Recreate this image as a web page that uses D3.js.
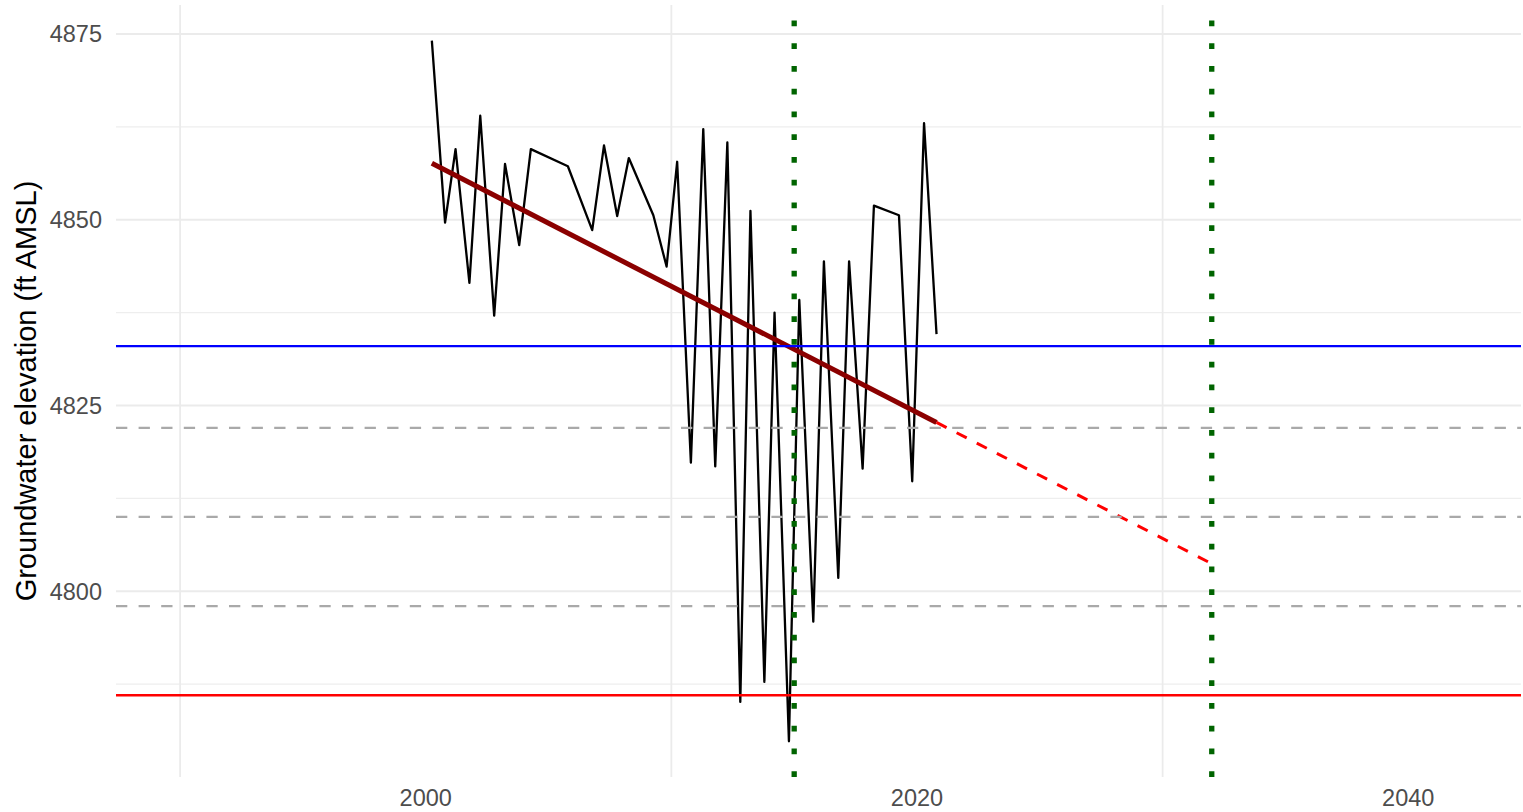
<!DOCTYPE html>
<html>
<head>
<meta charset="utf-8">
<script src="https://cdn.jsdelivr.net/npm/d3@7"></script>
<style>
body { margin: 0; background: #fff; }
svg { display: block; font-family: "Liberation Sans", Arial, sans-serif; }
</style>
</head>
<body>
<div id="chart"></div>
<script>

//====================DATA===================

const dates = [
'2000-04-01','2000-10-15','2001-03-20','2001-10-12','2002-03-22','2002-10-15',
'2003-03-25','2003-10-22','2004-04-12','2005-10-15','2006-10-12','2007-04-05',
'2007-10-18','2008-04-08','2009-04-08','2009-10-22','2010-03-28','2010-10-18',
'2011-04-20','2011-10-15','2012-04-12','2012-10-22','2013-03-22','2013-10-15',
'2014-03-15','2014-10-15','2015-03-18','2015-10-12','2016-03-18','2016-10-18',
'2017-03-28','2017-10-15','2018-04-01','2019-04-08','2019-10-22','2020-04-15',
'2020-10-18'
]

const levels = [
4874.1, 4849.6, 4859.5, 4841.5, 4864.0, 4837.1,
4857.5, 4846.6, 4859.5, 4857.2, 4848.6, 4860.0,
4850.5, 4858.3, 4850.6, 4843.7, 4857.8, 4817.3,
4862.2, 4816.8, 4860.4, 4785.1, 4851.2, 4787.8,
4837.5, 4779.8, 4839.2, 4795.9, 4844.4, 4801.8,
4844.4, 4816.5, 4851.9, 4850.6, 4814.8, 4863.0,
4834.6
]

const objective = 4833           // blue line
const minimumThreshold = 4786    // red line
const interimLevels = [4822, 4810, 4798]  // grey dashed
const markerYears = [2015, 2032] // green dotted
const projectTo = 2032

const xTicks = [2000, 2020, 2040]
const xGrid = [1990, 2010, 2030]
const yTicks = [4800, 4825, 4850, 4875]
const yMinor = [4787.5, 4812.5, 4837.5, 4862.5]

//====================STRUCTURE===================

const width = 1523
const height = 812
const margin = {top: 5, right: 2, bottom: 35, left: 116}

const parse = d3.timeParse('%Y-%m-%d')

const toYear = d => {
	const y = d.getFullYear()
	const s = new Date(y, 0, 1), e = new Date(y + 1, 0, 1)
	return y + (d - s) / (e - s)
}

const data = dates.map((d, i) => ({year: toYear(parse(d)), value: levels[i]}))

// linear fit of level over time
const mx = d3.mean(data, d => d.year)
const my = d3.mean(data, d => d.value)
const slope = d3.sum(data, d => (d.year - mx) * (d.value - my)) / d3.sum(data, d => (d.year - mx) ** 2)
const fit = yr => my + slope * (yr - mx)

const firstYear = data[0].year
const lastYear = data[data.length - 1].year

const x = d3.scaleLinear()
.domain([1987.39, 2044.59])
.range([margin.left, width - margin.right])

const y = d3.scaleLinear()
.domain([4775.0, 4878.9])
.range([height - margin.bottom, margin.top])

const svg = d3.select('#chart')
.append('svg')
.attr('width', width)
.attr('height', height)

//================GRID======================================

const grid = svg.append('g')

grid.selectAll('.minor-y')
.data(yMinor)
.enter()
.append('line')
.attr('x1', x.range()[0]).attr('x2', x.range()[1])
.attr('y1', d => y(d)).attr('y2', d => y(d))
.attr('stroke', '#EEEEEE')
.attr('stroke-width', 1.2)

grid.selectAll('.major-y')
.data(yTicks)
.enter()
.append('line')
.attr('x1', x.range()[0]).attr('x2', x.range()[1])
.attr('y1', d => y(d)).attr('y2', d => y(d))
.attr('stroke', '#EBEBEB')
.attr('stroke-width', 2.2)

grid.selectAll('.grid-x')
.data(xGrid)
.enter()
.append('line')
.attr('x1', d => x(d)).attr('x2', d => x(d))
.attr('y1', y.range()[0]).attr('y2', y.range()[1])
.attr('stroke', '#EBEBEB')
.attr('stroke-width', 1.8)

//================AXES======================================

svg.append('g')
.selectAll('text')
.data(yTicks)
.enter()
.append('text')
.attr('x', margin.left - 14)
.attr('y', d => y(d))
.attr('dy', '0.36em')
.attr('text-anchor', 'end')
.attr('fill', '#4D4D4D')
.style('font-size', '23.5px')
.text(d => d)

svg.append('g')
.selectAll('text')
.data(xTicks)
.enter()
.append('text')
.attr('x', d => x(d))
.attr('y', height - 6)
.attr('text-anchor', 'middle')
.attr('fill', '#4D4D4D')
.style('font-size', '23.5px')
.text(d => d)

svg.append('text')
.attr('transform', `translate(36,${(y.range()[0] + y.range()[1]) / 2}) rotate(-90)`)
.attr('text-anchor', 'middle')
.attr('fill', '#000')
.style('font-size', '29px')
.text('Groundwater elevation (ft AMSL)')

//================SERIES======================================

const line = d3.line()
.x(d => x(d.year))
.y(d => y(d.value))

svg.append('path')
.datum(data)
.attr('d', line)
.attr('fill', 'none')
.attr('stroke', '#000')
.attr('stroke-width', 2.3)
.attr('stroke-linejoin', 'round')

svg.append('line')
.attr('x1', x(firstYear)).attr('y1', y(fit(firstYear)))
.attr('x2', x(lastYear)).attr('y2', y(fit(lastYear)))
.attr('stroke', '#8B0000')
.attr('stroke-width', 5)

svg.append('line')
.attr('x1', x(lastYear)).attr('y1', y(fit(lastYear)))
.attr('x2', x(projectTo)).attr('y2', y(fit(projectTo)))
.attr('stroke', '#FF0000')
.attr('stroke-width', 3)
.attr('stroke-dasharray', '11.3,11.3')

//================REFERENCE LINES======================================

svg.append('line')
.attr('x1', x.range()[0]).attr('x2', x.range()[1])
.attr('y1', y(objective)).attr('y2', y(objective))
.attr('stroke', '#0000FF')
.attr('stroke-width', 2.2)

svg.append('line')
.attr('x1', x.range()[0]).attr('x2', x.range()[1])
.attr('y1', y(minimumThreshold)).attr('y2', y(minimumThreshold))
.attr('stroke', '#FF0000')
.attr('stroke-width', 2.5)

svg.selectAll('.interim')
.data(interimLevels)
.enter()
.append('line')
.attr('x1', x.range()[0]).attr('x2', x.range()[1])
.attr('y1', d => y(d)).attr('y2', d => y(d))
.attr('stroke', '#A9A9A9')
.attr('stroke-width', 2.3)
.attr('stroke-dasharray', '11.3,11.3')

svg.selectAll('.marker')
.data(markerYears)
.enter()
.append('line')
.attr('x1', d => x(d)).attr('x2', d => x(d))
.attr('y1', y.range()[0]).attr('y2', y.range()[1])
.attr('stroke', '#006400')
.attr('stroke-width', 5.3)
.attr('stroke-dasharray', '5.7,17.05')

</script>
</body>
</html>
